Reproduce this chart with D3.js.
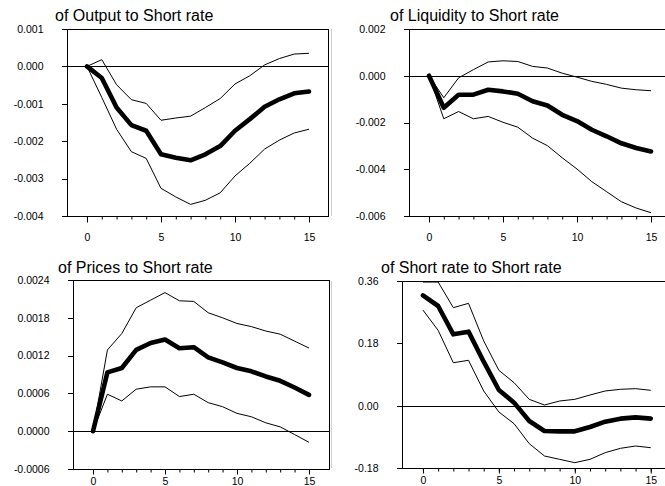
<!DOCTYPE html>
<html><head><meta charset="utf-8">
<script src="https://cdn.jsdelivr.net/npm/d3@7"></script>
<style>
body{margin:0;background:#fff}
svg{display:block}
text{font-family:"Liberation Sans",Arial,Helvetica,sans-serif;fill:#000}
</style>
</head><body>
<svg id="chart" width="665" height="486"></svg>
<script>
// ---------- data ----------
const periods = [0,1,2,3,4,5,6,7,8,9,10,11,12,13,14,15];

const outputMid = [0,-0.00031,-0.0011,-0.00157,-0.00172,-0.00235,-0.00244,-0.00251,-0.00235,-0.00213,-0.00172,-0.00141,-0.00108,-0.00088,-0.00072,-0.00067];
const outputUp  = [0,0.00018,-0.00049,-0.00089,-0.00099,-0.00144,-0.00138,-0.00133,-0.0011,-0.00086,-0.00047,-0.00025,0.00004,0.00021,0.00033,0.00035];
const outputLo  = [0,-0.00083,-0.00168,-0.00228,-0.00246,-0.00326,-0.00349,-0.00369,-0.00358,-0.00338,-0.00293,-0.00259,-0.00221,-0.00197,-0.00178,-0.00168];

const liqMid = [0,-0.00137,-0.00081,-0.00081,-0.0006,-0.00067,-0.00077,-0.00109,-0.00127,-0.00167,-0.00194,-0.00231,-0.00259,-0.00289,-0.00309,-0.00324];
const liqUp  = [0,-0.00094,-0.00009,0.00026,0.00059,0.00064,0.00061,0.0004,0.00033,0.00011,-0.00006,-0.00024,-0.00037,-0.00053,-0.0006,-0.00064];
const liqLo  = [0,-0.00184,-0.00153,-0.00184,-0.00174,-0.00199,-0.0022,-0.00267,-0.00299,-0.00351,-0.00399,-0.00453,-0.00496,-0.00539,-0.00566,-0.00586];

const priceMid = [0,0.000933,0.001003,0.00129,0.0014,0.001456,0.001317,0.001333,0.001173,0.001093,0.001003,0.00095,0.000869,0.0008,0.000693,0.000576];
const priceUp  = [0,0.00129,0.00155,0.00196,0.00208,0.0022,0.00207,0.00206,0.00188,0.0018,0.00171,0.00166,0.00159,0.00154,0.00143,0.00132];
const priceLo  = [0,0.000587,0.00048,0.000667,0.000704,0.000704,0.00055,0.000587,0.000453,0.000389,0.000283,0.000229,0.000133,0.000069,-0.000053,-0.000176];

const rateMid = [0.3186,0.2878,0.206,0.2137,0.127,0.0452,0.0087,-0.0443,-0.0732,-0.0741,-0.0741,-0.0616,-0.0462,-0.0375,-0.0337,-0.0375];
const rateUp  = [0.357,0.357,0.283,0.2955,0.187,0.102,0.0664,0.0183,0.0019,0.0135,0.0183,0.0308,0.0424,0.0472,0.0491,0.0443];
const rateLo  = [0.276,0.2175,0.124,0.131,0.0424,-0.0183,-0.052,-0.1097,-0.1453,-0.155,-0.1646,-0.155,-0.1357,-0.1232,-0.1165,-0.1213];

const titles = ["of Output to Short rate","of Liquidity to Short rate","of Prices to Short rate","of Short rate to Short rate"];

const outputTicks = [0.001,0,-0.001,-0.002,-0.003,-0.004];
const outputLabels = ["0.001","0.000","-0.001","-0.002","-0.003","-0.004"];
const liqTicks = [0.002,0,-0.002,-0.004,-0.006];
const liqLabels = ["0.002","0.000","-0.002","-0.004","-0.006"];
const priceTicks = [0.0024,0.0018,0.0012,0.0006,0,-0.0006];
const priceLabels = ["0.0024","0.0018","0.0012","0.0006","0.0000","-0.0006"];
const rateTicks = [0.36,0.18,0,-0.18];
const rateLabels = ["0.36","0.18","0.00","-0.18"];

const xMajor = [0,5,10,15];
const xMajorLabels = ["0","5","10","15"];

// ---------- layout ----------
const panels = [
  {title:titles[0], mid:outputMid, up:outputUp, lo:outputLo, ticks:outputTicks, labels:outputLabels,
   box:{l:67,r:329,t:29,b:216}, xd:[-1.35,16.35], tx:55, ty:21, xpad:11, xtick:6},
  {title:titles[1], mid:liqMid, up:liqUp, lo:liqLo, ticks:liqTicks, labels:liqLabels,
   box:{l:409,r:671,t:29,b:216}, xd:[-1.35,16.35], tx:390, ty:21, xpad:11, xtick:6},
  {title:titles[2], mid:priceMid, up:priceUp, lo:priceLo, ticks:priceTicks, labels:priceLabels,
   box:{l:73,r:330,t:280,b:469}, xd:[-1.39,16.46], tx:58, ty:273, xpad:3, xtick:5},
  {title:titles[3], mid:rateMid, up:rateUp, lo:rateLo, ticks:rateTicks, labels:rateLabels,
   box:{l:402,r:672,t:281,b:468}, xd:[-1.38,16.4], tx:381, ty:273, xpad:3, xtick:5}
];

const svg = d3.select("#chart");

// faint separator line between columns
svg.append("line").attr("x1",331.5).attr("x2",331.5).attr("y1",29).attr("y2",216)
  .attr("stroke","#cfcfcf").attr("stroke-width",1);
svg.append("line").attr("x1",331.5).attr("x2",331.5).attr("y1",281).attr("y2",468)
  .attr("stroke","#cfcfcf").attr("stroke-width",1);

panels.forEach((p,i)=>{
  const b = p.box;
  const x = d3.scaleLinear().domain(p.xd).range([b.l,b.r]);
  const yd = d3.extent(p.ticks);
  const y = d3.scaleLinear().domain(yd).range([b.b,b.t]);
  const g = svg.append("g");

  const cid = "clip"+i;
  svg.append("clipPath").attr("id",cid).append("rect")
    .attr("x",b.l).attr("y",b.t).attr("width",b.r-b.l).attr("height",b.b-b.t);

  // zero line
  g.append("line").attr("x1",b.l).attr("x2",b.r).attr("y1",Math.round(y(0))+0.5).attr("y2",Math.round(y(0))+0.5)
    .attr("stroke","#000").attr("stroke-width",1);

  const line = d3.line().x((d,k)=>x(periods[k])).y(d=>y(d)).curve(d3.curveLinear);
  const lg = g.append("g").attr("clip-path",`url(#${cid})`);
  [p.up,p.lo].forEach(s=>{
    lg.append("path").datum(s).attr("d",line).attr("fill","none")
      .attr("stroke","#000").attr("stroke-width",1).attr("stroke-linejoin","round");
  });
  lg.append("path").datum(p.mid).attr("d",line).attr("fill","none")
    .attr("stroke","#000").attr("stroke-width",4.6).attr("stroke-linejoin","round").attr("stroke-linecap","round");

  // frame
  g.append("rect").attr("x",b.l+0.5).attr("y",b.t+0.5).attr("width",b.r-b.l-1).attr("height",b.b-b.t)
    .attr("fill","none").attr("stroke","#000").attr("stroke-width",1).attr("shape-rendering","crispEdges");

  // y axis
  const ya = g.append("g").attr("transform",`translate(${b.l+0.5},0)`)
    .call(d3.axisLeft(y).tickValues(p.ticks).tickFormat((d,k)=>p.labels[k]).tickSize(6).tickPadding(18));
  ya.select(".domain").remove();
  ya.selectAll("line").attr("shape-rendering","crispEdges");
  ya.selectAll("text").attr("font-size","10.5px").attr("font-family","Liberation Sans, Arial, sans-serif");

  // x axis minor
  const xm = g.append("g").attr("transform",`translate(0,${b.b+0.5})`)
    .call(d3.axisBottom(x).tickValues(periods).tickFormat("").tickSize(3));
  xm.select(".domain").remove();
  // x axis major
  const xa = g.append("g").attr("transform",`translate(0,${b.b+0.5})`)
    .call(d3.axisBottom(x).tickValues(xMajor).tickFormat((d,k)=>xMajorLabels[k]).tickSize(p.xtick).tickPadding(p.xpad));
  xa.select(".domain").remove();
  xa.selectAll("text").attr("font-size","10.5px").attr("font-family","Liberation Sans, Arial, sans-serif");

  // title
  svg.append("text").attr("x",p.tx).attr("y",p.ty).attr("font-size","16px").text(p.title);
});
</script>
</body></html>
